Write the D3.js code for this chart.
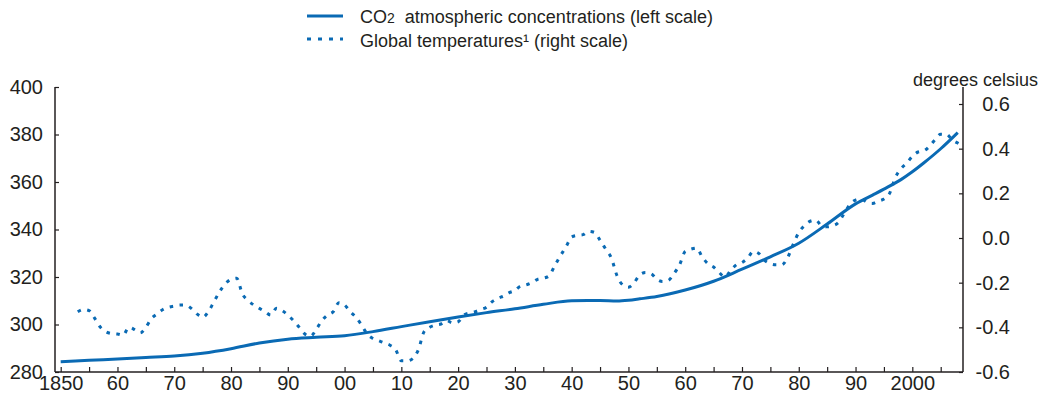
<!DOCTYPE html>
<html>
<head>
<meta charset="utf-8">
<script src="https://cdn.jsdelivr.net/npm/d3@7"></script>
<style>
  body { margin: 0; background: #fff; }
  svg text { font-family: "Liberation Sans", Arial, Helvetica, sans-serif; fill: #231f20; }
</style>
</head>
<body>
<svg id="chart" width="1042" height="394"></svg>
<script>
// CO2 atmospheric concentrations, ppm (left scale)
const co2Years = [1850, 1855, 1860, 1865, 1870, 1875, 1880, 1885, 1890, 1895, 1900, 1905, 1910, 1915,
  1920, 1925, 1930, 1935, 1940, 1945, 1948, 1950, 1952, 1955, 1960, 1965, 1970, 1975, 1980, 1985,
  1990, 1993, 1995, 1998, 2000, 2002, 2005, 2008]
const co2Values = [284.3, 284.9, 285.5, 286.1, 286.7, 287.9, 289.8, 292.2, 293.8, 294.6, 295.3, 297.0, 299.1, 301.2,
  303.2, 305.0, 306.6, 308.5, 310.0, 310.1, 309.9, 310.2, 310.8, 311.8, 314.5, 318.2, 323.3, 328.5, 334.2, 342.3,
  350.8, 354.5, 357.0, 361.0, 364.3, 368.0, 374.0, 380.8]

// global temperatures, degrees celsius (right scale), one value per year from 1853
const tempStartYear = 1853
const tempValues = [
  -0.33, -0.32, -0.325, -0.36, -0.40, -0.42, -0.428, -0.43, -0.435, -0.40,      // 1853-1862
  -0.41, -0.425, -0.40, -0.36, -0.34, -0.32, -0.31, -0.305, -0.30, -0.30,       // 1863-1872
  -0.315, -0.34, -0.355, -0.33, -0.285, -0.24, -0.205, -0.185, -0.18, -0.25,    // 1873-1882
  -0.28, -0.30, -0.315, -0.33, -0.345, -0.315, -0.325, -0.345, -0.37, -0.40,    // 1883-1892
  -0.43, -0.44, -0.41, -0.37, -0.345, -0.33, -0.29, -0.30, -0.33, -0.355,       // 1893-1902
  -0.39, -0.43, -0.45, -0.46, -0.47, -0.48, -0.50, -0.55, -0.55, -0.54,         // 1903-1912
  -0.50, -0.42, -0.40, -0.39, -0.385, -0.37, -0.38, -0.375, -0.345, -0.335,     // 1913-1922
  -0.33, -0.32, -0.31, -0.285, -0.27, -0.26, -0.245, -0.235, -0.215, -0.21,     // 1923-1932
  -0.20, -0.185, -0.18, -0.17, -0.125, -0.08, -0.04, 0.005, 0.012, 0.015,       // 1933-1942
  0.03, 0.025, -0.01, -0.05, -0.09, -0.17, -0.21, -0.22, -0.20, -0.165,         // 1943-1952
  -0.155, -0.16, -0.185, -0.195, -0.19, -0.16, -0.12, -0.06, -0.05, -0.045,     // 1953-1962
  -0.085, -0.115, -0.13, -0.155, -0.175, -0.145, -0.12, -0.11, -0.09, -0.06,    // 1963-1972
  -0.07, -0.10, -0.115, -0.12, -0.12, -0.09, -0.03, 0.025, 0.055, 0.075,        // 1973-1982
  0.08, 0.055, 0.05, 0.055, 0.07, 0.11, 0.15, 0.17, 0.175, 0.16,                // 1983-1992
  0.155, 0.165, 0.175, 0.20, 0.27, 0.31, 0.335, 0.365, 0.385, 0.39,             // 1993-2002
  0.41, 0.44, 0.465, 0.465, 0.44, 0.425, 0.41                                   // 2003-2009
]

const xTicks = d3.range(1850, 2006, 5)
const leftTicks = [280, 300, 320, 340, 360, 380, 400]
const rightTicks = [-0.6, -0.4, -0.2, 0.0, 0.2, 0.4, 0.6]

const blue = '#0a6ab4'
const ink = '#231f20'

const svg = d3.select('#chart')
const plot = { left: 55, right: 963, top: 87, bottom: 372 }

const x = d3.scaleLinear().domain([1850, 2005]).range([60.7, 940.7])
const yLeft = d3.scaleLinear().domain([280, 400]).range([plot.bottom, plot.top])
const yRight = d3.scaleLinear().domain([-0.6, 0.6]).range([plot.bottom, 104])

const co2Data = co2Years.map((yr, i) => ({ year: yr, value: co2Values[i] }))
const tempData = tempValues.map((v, i) => ({ year: tempStartYear + i, value: v }))

// lines
const co2Line = d3.line().x(d => x(d.year)).y(d => yLeft(d.value)).curve(d3.curveMonotoneX)
const tempLine = d3.line().x(d => x(d.year)).y(d => yRight(d.value)).curve(d3.curveMonotoneX)

svg.append('path')
  .datum(tempData)
  .attr('d', tempLine)
  .attr('fill', 'none')
  .attr('stroke', blue)
  .attr('stroke-width', 3)
  .attr('stroke-dasharray', '3.5,6.5')

svg.append('path')
  .datum(co2Data)
  .attr('d', co2Line)
  .attr('fill', 'none')
  .attr('stroke', blue)
  .attr('stroke-width', 3)

// axes
const fmtYear = d => {
  if (d % 10 !== 0) return ''
  if (d === 1850 || d === 2000) return String(d)
  return String(d).slice(2)
}
// plain hyphen for negatives, as in the original
const fmtTemp = d => d.toFixed(1).replace('\u2212', '-')

const xAxis = svg.append('g')
  .attr('transform', `translate(0,${plot.bottom})`)
  .call(d3.axisBottom(x).tickValues(xTicks).tickFormat(fmtYear).tickSizeInner(-5).tickSizeOuter(0).tickPadding(4))

const leftAxis = svg.append('g')
  .attr('transform', `translate(${plot.left},0)`)
  .call(d3.axisLeft(yLeft).tickValues(leftTicks).tickSizeInner(-4).tickSizeOuter(0).tickPadding(12))

const rightAxis = svg.append('g')
  .attr('transform', `translate(${plot.right},0)`)
  .call(d3.axisRight(yRight).tickValues(rightTicks).tickFormat(fmtTemp).tickSizeInner(-4).tickSizeOuter(0))

rightAxis.selectAll('text').attr('text-anchor', 'end').attr('x', 47)

for (const g of [xAxis, leftAxis, rightAxis]) {
  g.select('.domain').remove()
  g.attr('font-size', null).attr('font-family', null)
  g.selectAll('text').style('font-size', '20px')
  g.selectAll('line').attr('stroke', ink).attr('stroke-width', 1.2)
}

const frame = svg.append('g').attr('stroke', ink).attr('stroke-width', 1.5)
frame.append('line').attr('x1', plot.left).attr('x2', plot.right).attr('y1', plot.bottom).attr('y2', plot.bottom)
frame.append('line').attr('x1', plot.left).attr('x2', plot.left).attr('y1', plot.top).attr('y2', plot.bottom)
frame.append('line').attr('x1', plot.right).attr('x2', plot.right).attr('y1', plot.top).attr('y2', plot.bottom)

svg.append('text')
  .attr('x', 1038)
  .attr('y', 86)
  .attr('text-anchor', 'end')
  .style('font-size', '18px')
  .text('degrees celsius')

// legend
const legend = svg.append('g')
legend.append('line')
  .attr('x1', 307).attr('x2', 343).attr('y1', 16).attr('y2', 16)
  .attr('stroke', blue).attr('stroke-width', 3)
legend.append('line')
  .attr('x1', 307).attr('x2', 343).attr('y1', 39).attr('y2', 39)
  .attr('stroke', blue).attr('stroke-width', 3).attr('stroke-dasharray', '4,7')

const t1 = legend.append('text').attr('x', 360).attr('y', 23).style('font-size', '18px')
t1.append('tspan').text('CO')
t1.append('tspan').style('font-size', '14px').text('2')
t1.append('tspan').text('\u00a0 atmospheric concentrations (left scale)')

legend.append('text').attr('x', 360).attr('y', 47).style('font-size', '18px')
  .text('Global temperatures\u00b9 (right scale)')
</script>
</body>
</html>
